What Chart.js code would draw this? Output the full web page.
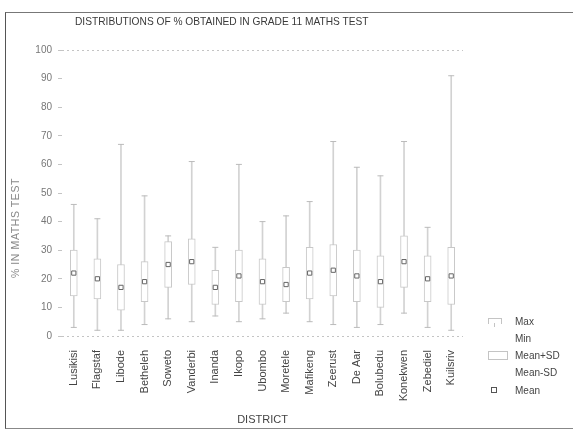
<!DOCTYPE html>
<html>
<head>
<meta charset="utf-8">
<script src="https://cdn.jsdelivr.net/npm/chart.js@4.4.1/dist/chart.umd.min.js"></script>
<style>
  body { margin: 0; background: #fff; font-family: "Liberation Sans", Arial, sans-serif; }
  #wrap { position: relative; width: 573px; height: 436px; }
  #frame { position: absolute; left: 5px; top: 12px; width: 568px; height: 415px;
           border-left: 1px solid #555; border-top: 1px solid #777; border-bottom: 1px solid #888; }
  .txt { position: absolute; color: #444; font-size: 10px; white-space: nowrap; }
  #title { left: 75px; top: 16px; font-size: 10.2px; color: #3a3a3a; }
  #ytitle { left: 15px; top: 228px; font-size: 10.5px; color: #888; letter-spacing: 0.6px;
            transform: translate(-50%, -50%) rotate(-90deg); }
  .sym { position: absolute; border: 1px solid #c4c4c4; }
</style>
</head>
<body>
<div id="wrap">
  <div id="frame"></div>
  <canvas id="boxchart"></canvas>
  <div class="txt" id="title">DISTRIBUTIONS OF % OBTAINED IN GRADE 11 MATHS TEST</div>
  <div class="txt" id="ytitle">% IN MATHS TEST</div>

  <!-- legend -->
  <div class="sym" style="left:488px; top:318px; width:12px; height:5px; border-bottom:none;"></div>
  <div class="sym" style="left:494px; top:323px; width:0; height:4px; border-width:0 0 0 1px;"></div>
  <div class="txt" style="left:515px; top:316px;">Max</div>
  <div class="txt" style="left:515px; top:333px;">Min</div>
  <div class="sym" style="left:488px; top:351px; width:18px; height:7px;"></div>
  <div class="txt" style="left:515px; top:350px;">Mean+SD</div>
  <div class="txt" style="left:515px; top:367px;">Mean-SD</div>
  <div class="sym" style="left:491px; top:387px; width:4px; height:4px; border-color:#555;"></div>
  <div class="txt" style="left:515px; top:385px;">Mean</div>
</div>

<script>
// districts and summary statistics (% in test)
var districts = ["Lusikisi", "Flagstaf", "Libode", "Betheleh", "Soweto", "Vanderbi", "Inanda", "Ikopo",
                 "Ubombo", "Moretele", "Mafikeng", "Zeerust", "De Aar", "Bolubedu", "Konekwen", "Zebediel", "Kuilsriv"];
var meanVals = [22, 20, 17, 19, 25, 26, 17, 21, 19, 18, 22, 23, 21, 19, 26, 20, 21];
var sdVals   = [8, 7, 8, 7, 8, 8, 6, 9, 8, 6, 9, 9, 9, 9, 9, 8, 10];
var maxVals  = [46, 41, 67, 49, 35, 61, 31, 60, 40, 42, 47, 68, 59, 56, 68, 38, 91];
var minVals  = [3, 2, 2, 4, 6, 5, 7, 5, 6, 8, 5, 4, 3, 4, 8, 3, 2];
var yTicks   = [0, 10, 20, 30, 40, 50, 60, 70, 80, 90, 100];

var whiskers = districts.map(function(d, i){ return [minVals[i], maxVals[i]]; });
var sdBoxes  = districts.map(function(d, i){ return [meanVals[i] - sdVals[i], meanVals[i] + sdVals[i]]; });

var ctx = document.getElementById("boxchart").getContext("2d");
var chart = new Chart(ctx, {
  type: "bar",
  data: {
    labels: districts,
    datasets: [
      { label: "Mean", type: "line", data: meanVals, showLine: false, order: 1,
        pointStyle: "rect", pointRadius: 3, pointBorderWidth: 1,
        borderColor: "#666", backgroundColor: "#fff" },
      { label: "Max", type: "line", data: maxVals, showLine: false, order: 2,
        pointStyle: "line", pointRadius: 3, pointBorderWidth: 1, borderColor: "#bbb" },
      { label: "Min", type: "line", data: minVals, showLine: false, order: 2,
        pointStyle: "line", pointRadius: 3, pointBorderWidth: 1, borderColor: "#bbb" },
      { label: "Mean+SD", data: sdBoxes, grouped: false, order: 3, barThickness: 7,
        backgroundColor: "#fff", borderColor: "#c8c8c8", borderWidth: 1, borderSkipped: false },
      { label: "Range", data: whiskers, grouped: false, order: 4, barThickness: 1,
        backgroundColor: "#d2d2d2", borderWidth: 0 }
    ]
  },
  options: {
    responsive: true,
    maintainAspectRatio: false,
    animation: false,
    layout: { padding: { left: 8, right: 110, top: 50, bottom: 8 } },
    plugins: { legend: { display: false }, tooltip: { enabled: false } },
    scales: {
      x: {
        offset: true,
        grid: { display: false },
        border: { display: false },
        ticks: { minRotation: 90, maxRotation: 90, padding: 6, color: "#444",
                 font: { family: "Liberation Sans", size: 11 } },
        title: { display: true, text: "DISTRICT", color: "#444", padding: 1,
                 font: { family: "Liberation Sans", size: 11 } },
        afterFit: function(scale){ scale.height = 92; }
      },
      y: {
        min: 0, max: 100,
        afterBuildTicks: function(scale){ scale.ticks = yTicks.map(function(v){ return { value: v }; }); },
        border: { display: false, dash: [2, 3] },
        grid: {
          tickLength: 4,
          tickColor: "#c4c4c4",
          color: function(c){ return (c.tick && (c.tick.value === 0 || c.tick.value === 100)) ? "#c4c4c4" : "rgba(0,0,0,0)"; }
        },
        ticks: { color: "#777", padding: 6, font: { family: "Liberation Sans", size: 10 } },
        afterFit: function(scale){ scale.width = 54; }
      }
    }
  }
});
</script>
</body>
</html>
